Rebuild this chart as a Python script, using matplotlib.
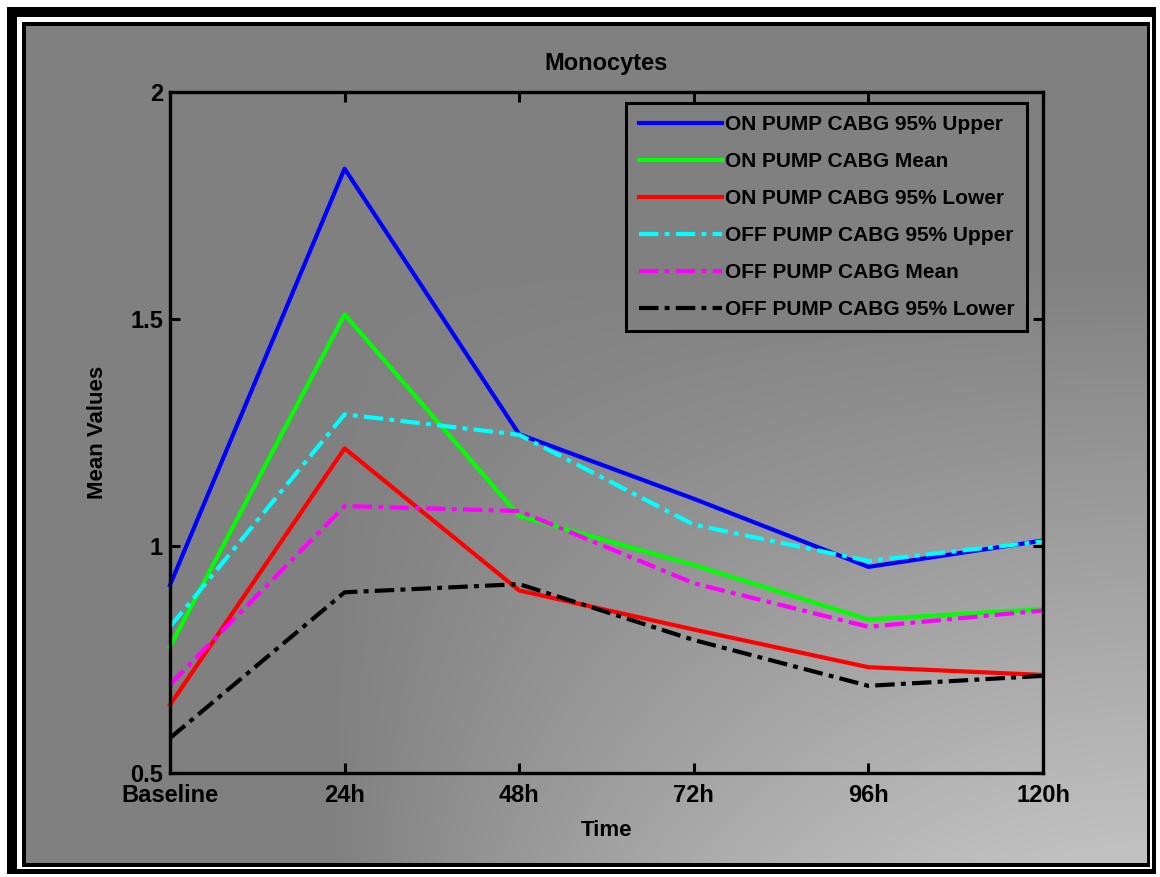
import numpy as np
import matplotlib
matplotlib.use("Agg")
import matplotlib.pyplot as plt

# ---- data ----
time_labels = ["Baseline", "24h", "48h", "72h", "96h", "120h"]
on_upper = [0.914, 1.831, 1.246, 1.104, 0.954, 1.012]
on_mean = [0.778, 1.510, 1.066, 0.958, 0.838, 0.861]
on_lower = [0.650, 1.215, 0.902, 0.816, 0.733, 0.716]
off_upper = [0.822, 1.290, 1.245, 1.047, 0.967, 1.010]
off_mean = [0.695, 1.088, 1.077, 0.918, 0.822, 0.858]
off_lower = [0.577, 0.898, 0.916, 0.793, 0.692, 0.714]
y_ticks = [0.5, 1.0, 1.5, 2.0]
y_tick_labels = ["0.5", "1", "1.5", "2"]

W, H, DPI = 1160, 877, 100
plt.rcParams["font.family"] = ["Liberation Sans", "DejaVu Sans"]
plt.rcParams["font.weight"] = "bold"
plt.rcParams["lines.scale_dashes"] = False

fig = plt.figure(figsize=(W / DPI, H / DPI), dpi=DPI)

# ---- framed gradient backdrop ----
yy, xx = np.mgrid[0:H, 0:W].astype(float)
xn = np.clip((xx - 330) / 830.0, 0, 1)
xn = xn * xn * (3 - 2 * xn)
yn = np.clip((yy - 260) / 610.0, 0, 1)
level = (128 + 64 * np.clip(np.sqrt(xn) * yn * 1.05, 0, 1)) / 255.0
bg = np.ones((H, W, 3))
bg[:] = level[..., None]
# outer black frame, white gap, inner black rule
frame = np.ones((H, W))
frame[7:874, 7:1156] = 0.0
frame[17:869, 17:1152] = 1.0
frame[22:867, 22:1150] = 0.0
mask = np.zeros((H, W), bool)
mask[26:863, 26:1147] = True
out = np.where(mask[..., None], bg, frame[..., None])

bg_ax = fig.add_axes([0, 0, 1, 1], zorder=-5)
bg_ax.imshow(out, aspect="auto", interpolation="nearest", extent=(0, W, H, 0))
bg_ax.set_axis_off()

# ---- axes ----
left, right, top, bottom = 170, 1043, 92, 773
ax = fig.add_axes([left / W, (H - bottom) / H, (right - left) / W, (bottom - top) / H], zorder=1)
ax.set_facecolor("none")
x = np.arange(len(time_labels))

dashdot = (0, (14, 4.5, 3.5, 4.5))
series = [
    (on_upper, "#0000ff", "-", "ON PUMP CABG 95% Upper"),
    (on_mean, "#00ff00", "-", "ON PUMP CABG Mean"),
    (on_lower, "#ff0000", "-", "ON PUMP CABG 95% Lower"),
    (off_upper, "#00ffff", dashdot, "OFF PUMP CABG 95% Upper"),
    (off_mean, "#ff00ff", dashdot, "OFF PUMP CABG Mean"),
    (off_lower, "#000000", dashdot, "OFF PUMP CABG 95% Lower"),
]
for vals, col, ls, lab in series:
    ax.plot(x, vals, color=col, linestyle=ls, linewidth=3.0, label=lab, clip_on=False)

ax.set_xlim(0, len(time_labels) - 1)
ax.set_ylim(0.5, 2.0)
ax.set_xticks(x)
ax.set_xticklabels(time_labels)
ax.set_yticks(y_ticks)
ax.set_yticklabels(y_tick_labels)

for sp in ax.spines.values():
    sp.set_linewidth(2.4)
    sp.set_color("black")
ax.tick_params(direction="in", top=True, right=True, length=7, width=2.2,
               labelsize=17, colors="black")
ax.tick_params(axis="x", pad=8)
ax.tick_params(axis="y", pad=5)

ax.set_title("Monocytes", fontsize=17, fontweight="bold", pad=16)
ax.set_xlabel("Time", fontsize=16, fontweight="bold", labelpad=9)
ax.set_ylabel("Mean Values", fontsize=16, fontweight="bold", labelpad=16)

leg = ax.legend(loc="upper right", bbox_to_anchor=(0.982, 0.984), borderaxespad=0,
                fontsize=15, handlelength=4.0, handletextpad=0.15,
                labelspacing=0.86, borderpad=0.6, fancybox=False, framealpha=1)
leg.get_frame().set_facecolor("#808080")
leg.get_frame().set_edgecolor("black")
leg.get_frame().set_linewidth(2.2)

fig.savefig("out.png", dpi=DPI)
